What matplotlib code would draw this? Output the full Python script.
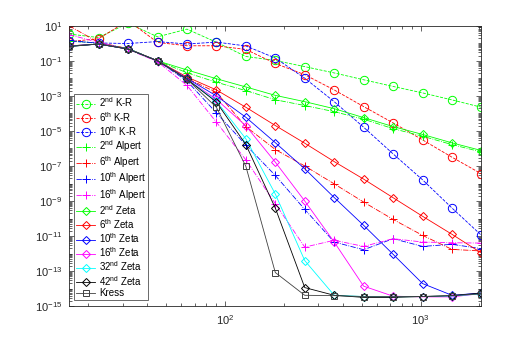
import numpy as np
import matplotlib
matplotlib.use("Agg")
import matplotlib.pyplot as plt
from matplotlib.ticker import LogLocator, FixedLocator, NullFormatter, FuncFormatter

plt.rcParams['font.family'] = ['Liberation Sans', 'DejaVu Sans']
plt.rcParams['mathtext.fontset'] = 'custom'
plt.rcParams['mathtext.rm'] = 'Liberation Sans'
plt.rcParams['mathtext.it'] = 'Liberation Sans:italic'
plt.rcParams['mathtext.bf'] = 'Liberation Sans:bold'

# number of discretisation points
N = [16, 22.6, 32, 45.3, 64, 90.5, 128, 181, 256, 362, 512, 724, 1024, 1448, 2048]

# errors as log10 values
kr2 = [0.53, 0.33, 1.15, 0.37, 0.81, 0.06, -0.75, -0.98, -1.33, -1.69, -2.08, -2.46, -2.83, -3.23, -3.65]
kr6 = [0.10, 0.26, 1.30, 0.05, -0.14, -0.14, -0.35, -1.15, -1.79, -2.66, -3.61, -4.54, -5.51, -6.50, -7.45]
kr10 = [0.12, 0.02, -0.01, 0.10, -0.04, 0.07, -0.15, -0.84, -1.99, -3.33, -4.79, -6.31, -7.79, -9.40, -10.96]
alp2 = [0.15, 0.00, -0.30, -1.00, -1.68, -2.22, -2.70, -3.22, -3.55, -3.90, -4.33, -4.87, -5.30, -5.78, -6.20]
alp6 = [1.00, 0.05, -0.30, -1.00, -2.00, -2.80, -4.75, -6.06, -7.00, -8.02, -9.06, -10.05, -10.96, -11.76, -11.85]
alp10 = [0.17, 0.00, -0.30, -1.00, -2.15, -3.97, -5.80, -7.54, -9.48, -11.34, -11.78, -11.15, -11.59, -11.47, -11.72]
alp16 = [0.50, 0.05, -0.35, -1.05, -2.40, -4.50, -6.65, -9.15, -11.63, -11.24, -11.59, -11.15, -11.34, -11.38, -11.40]
zeta2 = [-0.15, -0.04, -0.30, -1.00, -1.52, -2.02, -2.49, -2.97, -3.33, -3.73, -4.24, -4.75, -5.20, -5.68, -6.12]
zeta6 = [-0.15, -0.04, -0.32, -1.00, -1.92, -2.66, -3.65, -4.69, -5.70, -6.75, -7.75, -8.81, -9.87, -10.90, -11.97]
zeta10 = [-0.15, -0.04, -0.32, -1.00, -2.00, -3.00, -4.22, -5.67, -7.16, -8.80, -10.39, -12.04, -13.71, -14.38, -14.25]
zeta16 = [-0.17, -0.04, -0.33, -1.00, -2.05, -3.20, -4.71, -6.78, -9.00, -11.34, -13.86, -14.43, -14.47, -14.47, -14.28]
zeta32 = [-0.18, -0.04, -0.33, -1.00, -2.05, -3.30, -5.45, -8.60, -12.40, -14.38, -14.45, -14.47, -14.45, -14.42, -14.30]
zeta42 = [-0.18, -0.04, -0.33, -1.00, -2.05, -3.35, -5.78, -9.40, -13.94, -14.38, -14.50, -14.50, -14.45, -14.40, -14.25]
kress = [-0.18, -0.04, -0.33, -1.00, -2.05, -3.65, -7.02, -13.08, -14.38, -14.40, -14.45, -14.45, -14.45, -14.40, -14.30]

labels = [r'2$^{\rm nd}$ K-R', r'6$^{\rm th}$ K-R', r'10$^{\rm th}$ K-R',
          r'2$^{\rm nd}$ Alpert', r'6$^{\rm th}$ Alpert', r'10$^{\rm th}$ Alpert', r'16$^{\rm th}$ Alpert',
          r'2$^{\rm nd}$ Zeta', r'6$^{\rm th}$ Zeta', r'10$^{\rm th}$ Zeta', r'16$^{\rm th}$ Zeta',
          r'32$^{\rm nd}$ Zeta', r'42$^{\rm nd}$ Zeta', 'Kress']

series = [kr2, kr6, kr10, alp2, alp6, alp10, alp16,
          zeta2, zeta6, zeta10, zeta16, zeta32, zeta42, kress]
colors = ['#00ff00', '#ff0000', '#0000ff',
          '#00ff00', '#ff0000', '#0000ff', '#ff00ff',
          '#00ff00', '#ff0000', '#0000ff', '#ff00ff', '#00ffff', '#000000', '#404040']
markers = ['o'] * 3 + ['+'] * 4 + ['D'] * 6 + ['s']
styles = ['--'] * 3 + ['-.'] * 4 + ['-'] * 7
msizes = [6] * 3 + [6] * 4 + [4.5] * 6 + [4.5]

fig = plt.figure(figsize=(5.32, 3.44), dpi=100)
ax = fig.add_axes([0.13, 0.11, 0.775, 0.815])

for vals, lab, c, m, ls, ms in zip(series, labels, colors, markers, styles, msizes):
    ax.plot(N, 10.0 ** np.array(vals), linestyle=ls, color=c, marker=m, markersize=ms,
            markerfacecolor='none', markeredgecolor=c, markeredgewidth=0.7,
            linewidth=0.6, label=lab, clip_on=True)

ax.set_xscale('log')
ax.set_yscale('log')
ax.set_xlim(16, 2048)
ax.set_ylim(1e-15, 1e1)

ax.yaxis.set_major_locator(FixedLocator([10.0 ** k for k in range(-15, 2, 2)]))
ax.yaxis.set_minor_locator(LogLocator(base=10, subs=np.arange(1, 10), numticks=40))
ax.yaxis.set_minor_formatter(NullFormatter())
ax.yaxis.set_major_formatter(FuncFormatter(lambda v, p: r'10$^{%d}$' % int(round(np.log10(v)))))
ax.xaxis.set_major_locator(FixedLocator([100, 1000]))
ax.xaxis.set_minor_locator(LogLocator(base=10, subs=np.arange(2, 10), numticks=20))
ax.xaxis.set_minor_formatter(NullFormatter())
ax.xaxis.set_major_formatter(FuncFormatter(lambda v, p: r'10$^{%d}$' % int(round(np.log10(v)))))

axcol = '#262626'
for s in ax.spines.values():
    s.set_color(axcol)
    s.set_linewidth(0.6)
ax.tick_params(which='both', direction='in', top=True, right=True, colors=axcol,
               labelsize=8, labelcolor='#262626', pad=5)
ax.tick_params(which='major', length=3.5, width=0.5)
ax.tick_params(which='minor', length=2, width=0.5)

leg = ax.legend(loc='upper left', bbox_to_anchor=(0.012, 0.758), borderaxespad=0,
                fontsize=7, frameon=True, fancybox=False, handlelength=2.0,
                handletextpad=0.4, labelspacing=0.04, borderpad=0.2)
leg.get_frame().set_edgecolor(axcol)
leg.get_frame().set_linewidth(0.6)

fig.savefig('out.png', dpi=100)
